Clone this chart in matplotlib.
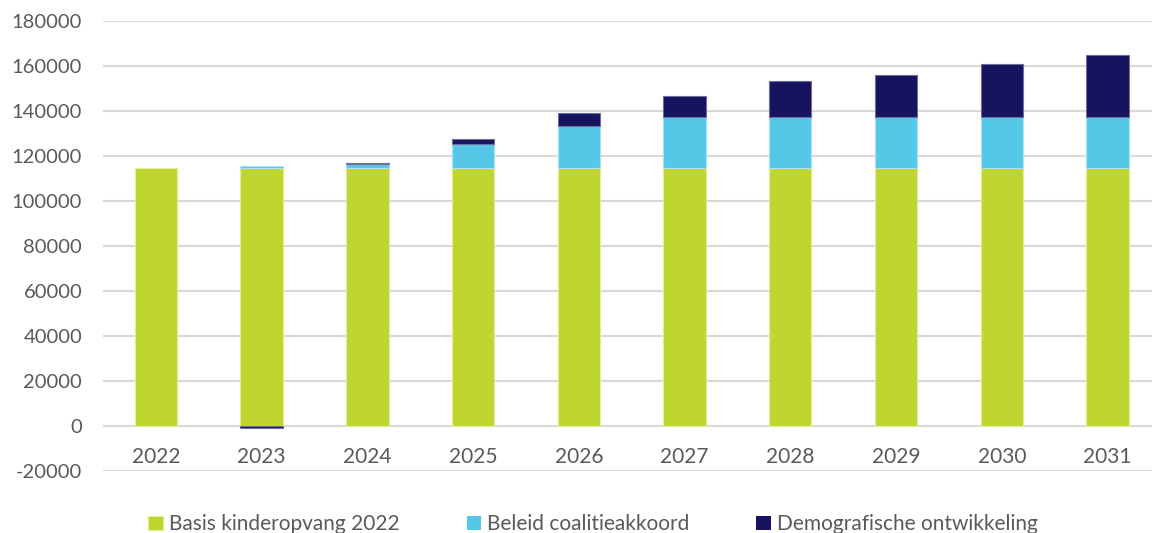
import numpy as np
import matplotlib.pyplot as plt

# values
years = ['2022', '2023', '2024', '2025', '2026', '2027', '2028', '2029', '2030', '2031']
basis = [114500, 114500, 114500, 114500, 114500, 114500, 114500, 114500, 114500, 114500]
beleid = [0, 1000, 2000, 10700, 19000, 23000, 23000, 23000, 23000, 23000]
demografie = [0, -1000, 500, 2400, 5500, 9200, 15700, 18500, 23200, 27400]

labels = ['Basis kinderopvang 2022', 'Beleid coalitieakkoord', 'Demografische ontwikkeling']
colors = ['#BFD630', '#55C8E8', '#16145E']

plt.rcParams['font.family'] = ['Lato', 'DejaVu Sans']

fig = plt.figure(figsize=(11.52, 5.33), dpi=100)
ax = fig.add_axes([103 / 1152, 62 / 533, 1 - 103 / 1152, 450 / 533])

x = np.arange(len(years))
basis = np.array(basis)
beleid = np.array(beleid)
demografie = np.array(demografie)

w = 0.4
# thin light outline like the source, but none on empty segments
def edge_widths(vals):
    return [0.8 if v != 0 else 0 for v in vals]

ax.bar(x, basis, w, color=colors[0], edgecolor='#E4EE9A', linewidth=edge_widths(basis), label=labels[0], zorder=3)
ax.bar(x, beleid, w, bottom=basis, color=colors[1], edgecolor='#A9E2F3', linewidth=edge_widths(beleid), label=labels[1], zorder=3)
# negative demographic values hang below zero, positive ones on top of the stack
demo_bottom = np.where(demografie >= 0, basis + beleid, 0)
ax.bar(x, demografie, w, bottom=demo_bottom, color=colors[2], edgecolor='#6E6D9C', linewidth=edge_widths(demografie), label=labels[2], zorder=3)

ax.set_ylim(-20000, 180000)
ax.set_xlim(-0.5, 9.42)
ax.set_yticks(np.arange(-20000, 180001, 20000))
ax.set_yticklabels([str(v) for v in range(-20000, 180001, 20000)], fontsize=14.5, color='#595959')
ax.yaxis.grid(True, color='#D9D9D9', linewidth=1.5, zorder=0)
ax.tick_params(axis='y', length=0, pad=15)
ax.set_xticks([])
for s in ax.spines.values():
    s.set_visible(False)

# category labels sit just under the zero line
for xi, yr in zip(x, years):
    ax.text(xi, -13600, yr, ha='center', va='center', fontsize=15, color='#595959')

handles, lbls = ax.get_legend_handles_labels()
leg = fig.legend(handles, lbls, loc='center', bbox_to_anchor=(0.515, 0.016), ncol=3,
                 frameon=False, fontsize=15, handlelength=0.7, handleheight=0.7,
                 handletextpad=0.3, columnspacing=3.2)
for t in leg.get_texts():
    t.set_color('#595959')

fig.savefig('out.png', dpi=100)
